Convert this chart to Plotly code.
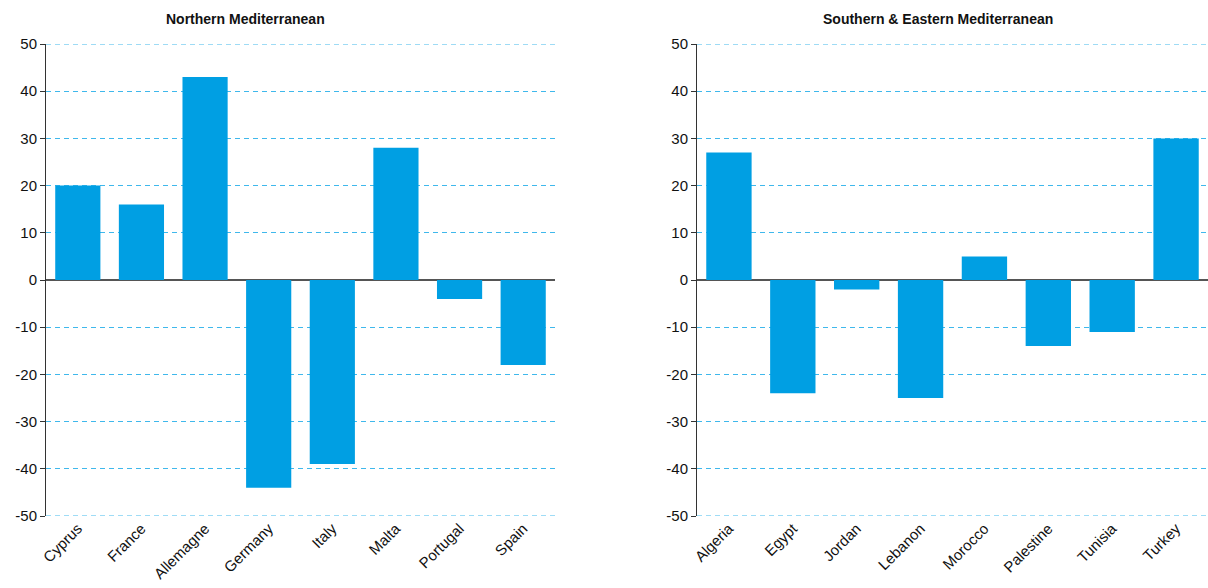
import plotly.graph_objects as go

north_countries = ["Cyprus", "France", "Allemagne", "Germany", "Italy", "Malta", "Portugal", "Spain"]
north_values = [20, 16, 43, -44, -39, 28, -4, -18]

south_countries = ["Algeria", "Egypt", "Jordan", "Lebanon", "Morocco", "Palestine", "Tunisia", "Turkey"]
south_values = [27, -24, -2, -25, 5, -14, -11, 30]

titles = ["Northern Mediterranean", "Southern & Eastern Mediterranean"]
y_ticks = [50, 40, 30, 20, 10, 0, -10, -20, -30, -40, -50]
y_tick_text = ["50", "40", "30", "20", "10", "0", "-10", "-20", "-30", "-40", "-50"]

BAR = "#009FE3"
GRID = "#3FB8EC"
FONT = "Liberation Sans, Arial, Helvetica, sans-serif"

fig = go.Figure()
fig.add_trace(go.Bar(x=north_countries, y=north_values, marker_color=BAR,
                     marker_line_width=0, xaxis="x", yaxis="y", showlegend=False))
fig.add_trace(go.Bar(x=south_countries, y=south_values, marker_color=BAR,
                     marker_line_width=0, xaxis="x2", yaxis="y2", showlegend=False))

W = 1208 - 46
T, B = 44, 72
H = 588 - T - B
d1 = [0, (555 - 46) / W]
d2 = [(697 - 46) / W, 1]

xcommon = dict(showgrid=False, zeroline=False, showline=False, tickangle=-45,
               tickfont=dict(family=FONT, size=15, color="#111"), ticks="")
ycommon = dict(range=[-50, 50], tickvals=y_ticks, ticktext=y_tick_text,
               showgrid=True, gridcolor=GRID,
               griddash="5px,4px", gridwidth=1, zeroline=True, zerolinecolor="#555",
               zerolinewidth=1.5, showline=True, linecolor="#333", linewidth=1,
               ticks="outside", ticklen=5, tickcolor="#333",
               tickfont=dict(family=FONT, size=15, color="#111"))

fig.update_layout(
    width=1208, height=588,
    margin=dict(l=46, r=0, t=T, b=B),
    paper_bgcolor="white", plot_bgcolor="white",
    bargap=0.29,
    xaxis=dict(domain=d1, anchor="y", **xcommon),
    yaxis=dict(anchor="x", **ycommon),
    xaxis2=dict(domain=d2, anchor="y2", **xcommon),
    yaxis2=dict(anchor="x2", **ycommon),
    font=dict(family=FONT),
)

# edge gridlines (plotly suppresses gridlines at the range limits)
for xr, yr in [("x domain", "y"), ("x2 domain", "y2")]:
    for yv in (y_ticks[0], y_ticks[-1]):
        fig.add_shape(type="line", xref=xr, yref=yr, x0=0, x1=1, y0=yv, y1=yv,
                      line=dict(color=GRID, width=1, dash="5px,4px"), layer="below")

title_px = [245, 938]
for t, px in zip(titles, title_px):
    fig.add_annotation(text="<b>" + t + "</b>", x=(px - 46) / W, xref="paper",
                       xanchor="center", y=1 + (T - 19) / H, yref="paper",
                       yanchor="middle", showarrow=False,
                       font=dict(family=FONT, size=14, color="#111"))

fig.write_html("out.html")
